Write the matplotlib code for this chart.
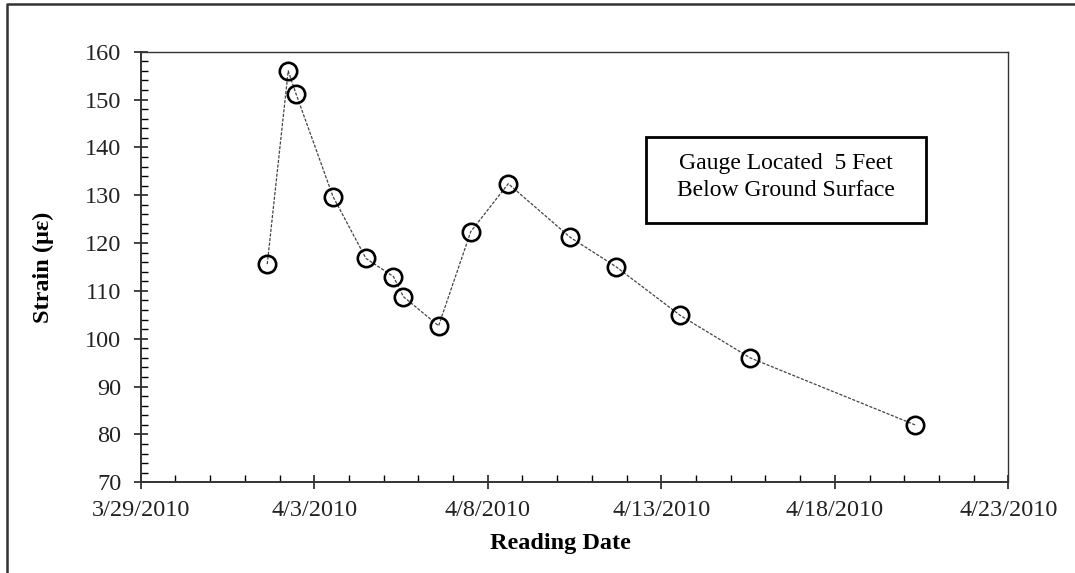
import datetime as dt
import matplotlib
matplotlib.use("Agg")
import matplotlib.pyplot as plt
import matplotlib.dates as mdates
from matplotlib.lines import Line2D
from matplotlib.patches import Rectangle
from matplotlib.ticker import MultipleLocator, FuncFormatter

plt.rcParams['font.family'] = ['Liberation Serif', 'DejaVu Serif']

# reading times and strain values
reading_times = ["2010-04-01 15:30", "2010-04-02 06:00", "2010-04-02 11:30",
                 "2010-04-03 13:00", "2010-04-04 11:45", "2010-04-05 06:45",
                 "2010-04-05 13:40", "2010-04-06 14:00", "2010-04-07 12:15",
                 "2010-04-08 14:10", "2010-04-10 09:00", "2010-04-11 16:30",
                 "2010-04-13 13:00", "2010-04-15 13:30", "2010-04-20 07:30"]
strain = [115.6, 156.0, 151.1, 129.7, 116.8, 113.0, 108.8, 102.7,
          122.4, 132.4, 121.2, 115.1, 104.9, 96.0, 82.0]

dates = [dt.datetime.strptime(s, "%Y-%m-%d %H:%M") for s in reading_times]

fig = plt.figure(figsize=(10.75, 5.73), dpi=100)
ax = fig.add_axes([0.1309, 0.1583, 0.8071, 0.7515])

ax.plot(dates, strain, linestyle=(0, (2.5, 1.2)), color='#444444', linewidth=0.9,
        marker='o', markersize=12.5, markerfacecolor='none',
        markeredgecolor='black', markeredgewidth=1.9, zorder=3)

ax.set_xlim(dt.datetime(2010, 3, 29), dt.datetime(2010, 4, 23))
ax.set_ylim(70, 160)

ax.xaxis.set_major_locator(mdates.DayLocator(bymonthday=[3, 8, 13, 18, 23, 29]))
ax.xaxis.set_minor_locator(mdates.DayLocator())
ax.xaxis.set_major_formatter(FuncFormatter(
    lambda v, p: "{d.month}/{d.day}/{d.year}".format(d=mdates.num2date(v))))
ax.yaxis.set_major_locator(MultipleLocator(10))
ax.yaxis.set_minor_locator(MultipleLocator(2))

for s in ax.spines.values():
    s.set_linewidth(1.0)
    s.set_color('#333333')
ax.spines['left'].set_linewidth(1.4)
ax.spines['bottom'].set_linewidth(1.4)

ax.tick_params(which='major', direction='inout', length=10, width=1.2,
               labelsize=17.5, colors='#222222')
ax.tick_params(axis='x', which='major', pad=8)
ax.tick_params(axis='y', which='major', pad=9)
ax.tick_params(which='minor', direction='in', length=5, width=1.0)
ax.tick_params(top=False, right=False, which='both')

fig.text(43 / 1075, 1 - 267 / 573, "Strain (µε)", rotation=90, ha='center',
         va='center', fontsize=17.5, fontweight='bold')
fig.text(560 / 1075, 1 - 544 / 573, "Reading Date", ha='center', va='center',
         fontsize=17.5, fontweight='bold')

# annotation box
ax.add_patch(Rectangle((0.582, 0.603), 0.323, 0.199, transform=ax.transAxes,
                       facecolor='white', edgecolor='black', linewidth=2, zorder=4))
ax.text(0.744, 0.709, "Gauge Located  5 Feet\nBelow Ground Surface",
        transform=ax.transAxes, ha='center', va='center', fontsize=17,
        linespacing=1.32, zorder=5)

# outer frame (left and top edges)
fig.add_artist(Line2D([7 / 1075, 7 / 1075, 1.0], [0.0, 1 - 4 / 573, 1 - 4 / 573],
                      transform=fig.transFigure, color='#333333', linewidth=1.8))

fig.savefig("out.png", dpi=100)
